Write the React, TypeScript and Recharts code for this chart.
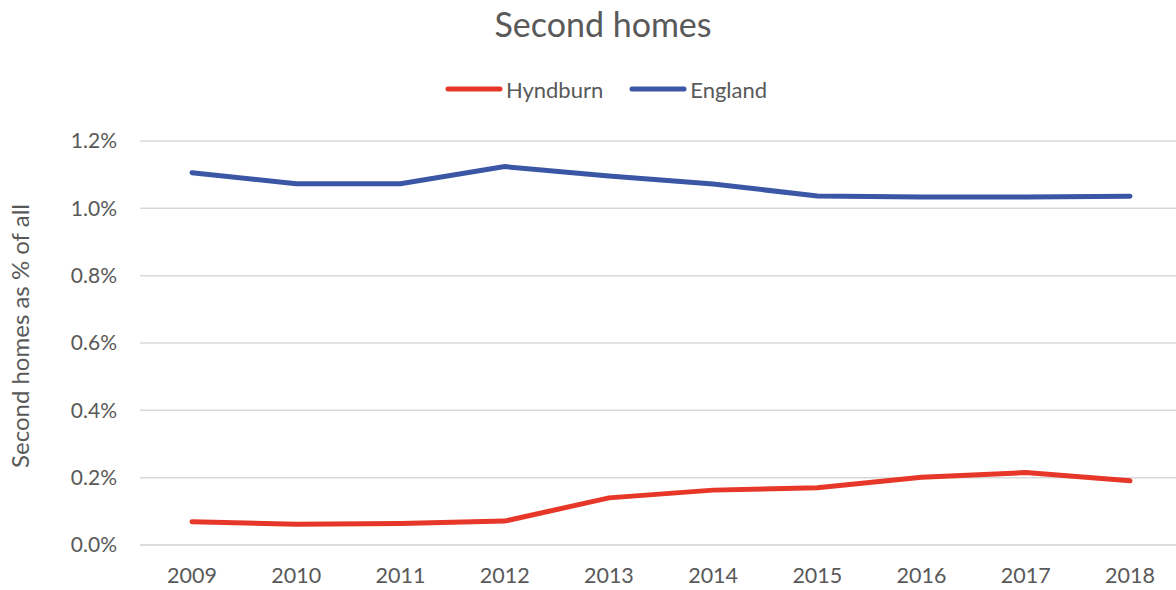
import { LineChart, Line, XAxis, YAxis, CartesianGrid, Legend } from 'recharts'

const years = ['2009', '2010', '2011', '2012', '2013', '2014', '2015', '2016', '2017', '2018']
const hyndburn = [0.069, 0.062, 0.064, 0.071, 0.140, 0.163, 0.170, 0.201, 0.215, 0.191]
const england = [1.106, 1.073, 1.073, 1.124, 1.096, 1.072, 1.037, 1.034, 1.034, 1.036]
const yTicks = [0, 0.2, 0.4, 0.6, 0.8, 1.0, 1.2]
const seriesOrder = ['Hyndburn', 'England']

const data = years.map((year, i) => ({ year, Hyndburn: hyndburn[i], England: england[i] }))

const FONT = 'Lato, "Open Sans", sans-serif'
const TEXT = '#595959'
const RED = '#E63728'
const BLUE = '#3B56A5'

function LegendContent({ payload }: any) {
  const items = [...(payload || [])].sort((a: any, b: any) => seriesOrder.indexOf(a.value) - seriesOrder.indexOf(b.value))
  return (
    <div style={{ display: 'flex', justifyContent: 'center', alignItems: 'center', height: 24, fontFamily: FONT, fontSize: 22, color: TEXT }}>
      {items.map((p: any, i: number) => (
        <div key={p.value} style={{ display: 'flex', alignItems: 'center', marginLeft: i ? 26 : 0 }}>
          <svg width={58} height={10} style={{ marginRight: 3 }}>
            <line x1={3} y1={5} x2={55} y2={5} stroke={p.color} strokeWidth={5} strokeLinecap="round" />
          </svg>
          <span>{p.value}</span>
        </div>
      ))}
    </div>
  )
}

export default function App() {
  return (
    <div style={{ position: 'absolute', left: 0, top: 0, width: 1176, height: 590, overflow: 'hidden', background: '#fff', fontFamily: FONT }}>
      <div style={{ position: 'absolute', left: 0, width: 1206, top: 3, textAlign: 'center', fontSize: 34, color: TEXT }}>
        Second homes
      </div>
      <LineChart width={1182} height={590} data={data} margin={{ top: 117, right: 0, bottom: 0, left: 0 }}>
        <CartesianGrid vertical={false} stroke="#d9d9d9" strokeWidth={1.5} />
        <XAxis
          dataKey="year"
          height={45}
          padding={{ left: 52, right: 52 }}
          tickLine={false}
          axisLine={{ stroke: '#d9d9d9', strokeWidth: 1.5 }}
          tickSize={0}
          tickMargin={23}
          tick={{ fontSize: 21.5, fill: TEXT, fontFamily: FONT }}
        />
        <YAxis
          width={140}
          domain={[0, 1.2]}
          ticks={yTicks}
          tickFormatter={(v: number) => `${v.toFixed(1)}%`}
          axisLine={false}
          tickLine={false}
          tickSize={0}
          tickMargin={23}
          tick={{ fontSize: 21, fill: TEXT, fontFamily: FONT }}
          label={{ value: 'Second homes as % of all', angle: -90, position: 'center', dx: -50, dy: -7, style: { fontSize: 24, fill: TEXT, fontFamily: FONT } }}
        />
        <Legend verticalAlign="top" align="center" wrapperStyle={{ top: 77, left: 0, width: 1212 }} content={<LegendContent />} />
        <Line type="linear" dataKey="Hyndburn" stroke={RED} strokeWidth={5} dot={false} strokeLinecap="round" isAnimationActive={false} />
        <Line type="linear" dataKey="England" stroke={BLUE} strokeWidth={5} dot={false} strokeLinecap="round" isAnimationActive={false} />
      </LineChart>
    </div>
  )
}
